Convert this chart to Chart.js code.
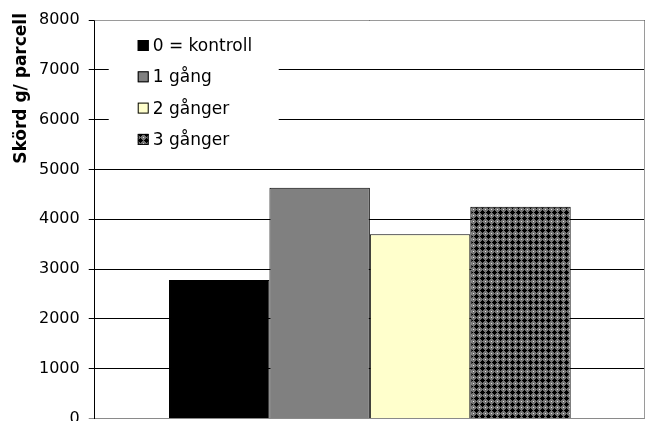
<!DOCTYPE html>
<html>
<head>
<meta charset="utf-8">
<script src="https://cdn.jsdelivr.net/npm/chart.js@4/dist/chart.umd.min.js"></script>
<style>
  html, body { margin: 0; padding: 0; background: #fff; overflow: hidden; }
  canvas { display: block; }
</style>
</head>
<body>
<canvas id="chart" width="646" height="437"></canvas>
<script>
// Skörd per parcell efter antal behandlingar
const categories = [''];
const seriesNames = ['0 = kontroll', '1 gång', '2 gånger', '3 gånger'];
const yields = [2780, 4630, 3700, 4250];
const yTicks = [0, 1000, 2000, 3000, 4000, 5000, 6000, 7000, 8000];
const axisTitle = 'Skörd g/ parcell';

const FONT = '"DejaVu Sans", "Liberation Sans", Arial, sans-serif';

// Dark checked fill used for the fourth series: black crosses on grey with light dots
function makeCheckPattern() {
  const tile = document.createElement('canvas');
  tile.width = 6; tile.height = 6;
  const t = tile.getContext('2d');
  t.fillStyle = '#747474';
  t.fillRect(0, 0, 6, 6);
  t.fillStyle = '#000';
  t.fillRect(1, 1, 3, 3);
  t.fillRect(2, 0, 1, 5);
  t.fillRect(0, 2, 5, 1);
  t.fillStyle = '#e0e0e0';
  t.fillRect(5, 5, 1, 1);
  return t.createPattern(tile, 'repeat');
}

const ctx = document.getElementById('chart').getContext('2d');
const checkFill = makeCheckPattern();
const fills = ['#000000', '#808080', '#FFFFCC', checkFill];

const datasets = seriesNames.map((name, i) => ({
  label: name,
  data: [yields[i]],
  backgroundColor: fills[i],
  borderColor: '#000',
  borderWidth: 1,
  categoryPercentage: 0.73,
  barPercentage: 1.0
}));

// Frame on the top and right of the plot area
const plotFrame = {
  id: 'plotFrame',
  afterDatasetsDraw(chart) {
    const { ctx, chartArea: a } = chart;
    ctx.save();
    ctx.strokeStyle = '#9a9a9a';
    ctx.lineWidth = 1;
    ctx.beginPath();
    ctx.moveTo(a.left, a.top + 0.5);
    ctx.lineTo(a.right - 0.5, a.top + 0.5);
    ctx.lineTo(a.right - 0.5, a.bottom);
    ctx.stroke();
    ctx.restore();
  }
};

// Rotated value-axis title near the top of the axis
const axisTitlePlugin = {
  id: 'axisTitlePlugin',
  afterDraw(chart) {
    const { ctx, chartArea: a } = chart;
    ctx.save();
    ctx.translate(a.left - 73, a.top - 7);
    ctx.rotate(-Math.PI / 2);
    ctx.font = 'bold 17px ' + FONT;
    ctx.fillStyle = '#000';
    ctx.textAlign = 'right';
    ctx.textBaseline = 'middle';
    ctx.fillText(axisTitle, 0, 0);
    ctx.restore();
  }
};

// Legend box inside the plot area, upper left
const innerLegend = {
  id: 'innerLegend',
  afterDatasetsDraw(chart) {
    const { ctx, chartArea: a } = chart;
    const boxLeft = a.left + 14, boxTop = a.top + 1;
    ctx.save();
    ctx.fillStyle = '#fff';
    ctx.fillRect(boxLeft, boxTop, 170, 147);
    ctx.font = '17px ' + FONT;
    ctx.textBaseline = 'alphabetic';
    ctx.textAlign = 'left';
    chart.data.datasets.forEach((ds, i) => {
      const base = a.top + 31 + i * 31.3;
      const sx = a.left + 43;
      ctx.fillStyle = ds.backgroundColor;
      ctx.fillRect(sx, base - 11, 11, 11);
      ctx.strokeStyle = '#000';
      ctx.lineWidth = 1;
      ctx.strokeRect(sx + 0.5, base - 10.5, 10, 10);
      ctx.fillStyle = '#000';
      ctx.fillText(ds.label, sx + 15, base);
    });
    ctx.restore();
  }
};

new Chart(ctx, {
  type: 'bar',
  data: { labels: categories, datasets },
  options: {
    responsive: false,
    animation: false,
    events: [],
    layout: { padding: { left: 30, top: 20, right: 1, bottom: 0 } },
    plugins: {
      legend: { display: false },
      tooltip: { enabled: false }
    },
    scales: {
      x: {
        display: false
      },
      y: {
        min: yTicks[0],
        max: yTicks[yTicks.length - 1],
        afterBuildTicks(scale) {
          scale.ticks = yTicks.map(v => ({ value: v }));
        },
        ticks: {
          color: '#000',
          padding: 9,
          font: { family: FONT, size: 16 },
          callback: v => String(v)
        },
        grid: {
          color: c => (c.tick && (c.tick.value === 0) ? '#8a8a8a' : '#000'),
          lineWidth: 1,
          tickLength: 6,
          drawTicks: true
        },
        border: { display: true, color: '#000', width: 1 }
      }
    }
  },
  plugins: [plotFrame, innerLegend, axisTitlePlugin]
});
</script>
</body>
</html>
